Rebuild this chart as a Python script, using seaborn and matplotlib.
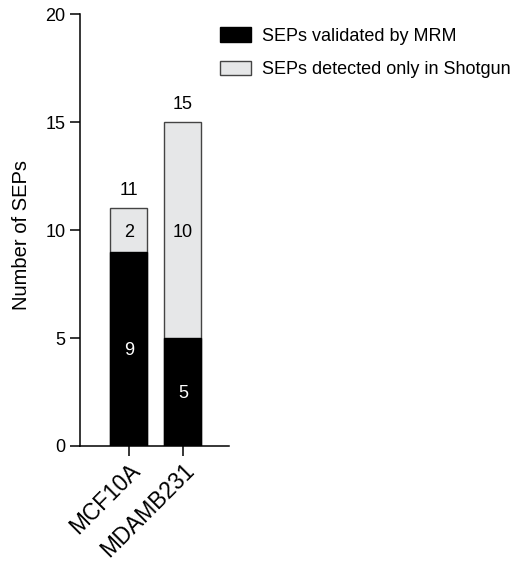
import matplotlib
matplotlib.use("Agg")
import matplotlib.pyplot as plt
import seaborn as sns
import pandas as pd

cell_lines = ["MCF10A", "MDAMB231"]
validated = [9, 5]
shotgun_only = [2, 10]
totals = [11, 15]
series_labels = ["SEPs validated by MRM", "SEPs detected only in Shotgun"]
y_ticks = [0, 5, 10, 15, 20]

sns.set_theme(style="ticks")
plt.rcParams["font.family"] = ["Liberation Sans", "DejaVu Sans"]
plt.rcParams.update({"text.color": "black", "axes.labelcolor": "black",
                     "xtick.color": "black", "ytick.color": "black",
                     "axes.edgecolor": "black"})

fig = plt.figure(figsize=(5.12, 5.61), dpi=100)
ax = fig.add_axes([0.156, 0.205, 0.291, 0.77])

df = pd.DataFrame({"line": cell_lines, "validated": validated,
                   "shotgun": shotgun_only, "total": totals})

sns.barplot(data=df, x="line", y="total", color="#e6e7e8", edgecolor="#444444",
            linewidth=1.0, width=0.685, ax=ax, saturation=1)
sns.barplot(data=df, x="line", y="validated", color="#000000", edgecolor="#000000",
            linewidth=1.0, width=0.685, ax=ax, saturation=1)

for i in range(len(cell_lines)):
    ax.text(i, validated[i] / 2, str(validated[i]), ha="center", va="center_baseline",
            color="white", fontsize=13)
    ax.text(i, validated[i] + shotgun_only[i] / 2, str(shotgun_only[i]), ha="center",
            va="center_baseline", color="black", fontsize=13)
    ax.text(i, totals[i] + 0.6, str(totals[i]), ha="center", va="baseline",
            color="black", fontsize=13)

ax.set_ylim(0, 20)
ax.set_xlim(-0.907, 1.85)
ax.set_yticks(y_ticks)
ax.set_yticklabels([str(t) for t in y_ticks], fontsize=13)
ax.set_xticks(range(len(cell_lines)))
ax.set_xticklabels(cell_lines, rotation=45, ha="right", rotation_mode="anchor",
                   fontsize=16.3)
ax.set_xlabel("")
ax.set_ylabel("Number of SEPs", fontsize=14.5, color="black")
ax.yaxis.set_label_coords(-0.33, 0.488)
for s in ["top", "right"]:
    ax.spines[s].set_visible(False)
for s in ["left", "bottom"]:
    ax.spines[s].set_linewidth(1.1)
    ax.spines[s].set_color("black")
ax.tick_params(axis="both", width=1.1, length=7, pad=3.5, color="black",
               labelcolor="black")
ax.tick_params(axis="x", pad=2.5)

handles = [matplotlib.patches.Patch(facecolor="#000000", edgecolor="#000000", linewidth=1.0),
           matplotlib.patches.Patch(facecolor="#e6e7e8", edgecolor="#444444", linewidth=1.0)]
fig.legend(handles, series_labels,
           loc="upper left", bbox_to_anchor=(0.398, 0.98), frameon=False,
           fontsize=13, handlelength=1.72, handleheight=0.83, labelspacing=0.89,
           handletextpad=0.6, borderaxespad=0.5, labelcolor="black")

fig.savefig("out.png", dpi=100)
